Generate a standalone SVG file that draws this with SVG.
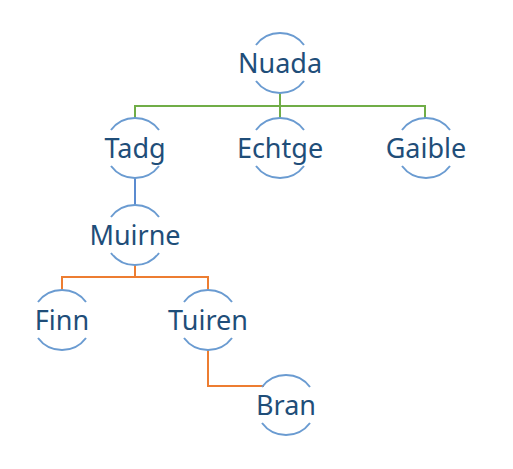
<svg xmlns="http://www.w3.org/2000/svg" width="513" height="469" viewBox="0 0 513 469">
<style>
.arc{fill:none;stroke:#6A9BD1;stroke-width:2}
.lbl{font-family:"Noto Sans","Open Sans","Liberation Sans",sans-serif;font-size:27px;fill:#1F4E79;text-anchor:middle}
.g{fill:none;stroke:#70AD47;stroke-width:2}
.b{fill:none;stroke:#5B8BD0;stroke-width:2}
.o{fill:none;stroke:#ED7D31;stroke-width:2}
</style>
<defs>
<g id="ring">
<path class="arc" d="M-24,-18 A30,30 0 0 1 24,-18"/>
<path class="arc" d="M-24,18 A30,30 0 0 0 24,18"/>
</g>
</defs>
<rect width="513" height="469" fill="#fff"/>
<g id="connectors">
<path class="g" d="M280,93 V106 M135,118 V106 H425 V118 M280,106 V118"/>
<path class="b" d="M135,178 V205"/>
<path class="o" d="M135,265 V277 M62,290 V277 H208 V290"/>
<path class="o" d="M208,350 V386 H264"/>
</g>
<g id="n-nuada"><use href="#ring" x="280" y="63"/><text class="lbl" x="280" y="73">Nuada</text></g>
<g id="n-tadg"><use href="#ring" x="135" y="148"/><text class="lbl" x="135" y="158">Tadg</text></g>
<g id="n-echtge"><use href="#ring" x="280" y="148"/><text class="lbl" x="280" y="158">Echtge</text></g>
<g id="n-gaible"><use href="#ring" x="426" y="148"/><text class="lbl" x="426" y="158">Gaible</text></g>
<g id="n-muirne"><use href="#ring" x="135" y="235"/><text class="lbl" x="135" y="245">Muirne</text></g>
<g id="n-finn"><use href="#ring" x="62" y="320"/><text class="lbl" x="62" y="330">Finn</text></g>
<g id="n-tuiren"><use href="#ring" x="208" y="320"/><text class="lbl" x="208" y="330">Tuiren</text></g>
<g id="n-bran"><use href="#ring" x="286" y="405"/><text class="lbl" x="286" y="415">Bran</text></g>
</svg>
